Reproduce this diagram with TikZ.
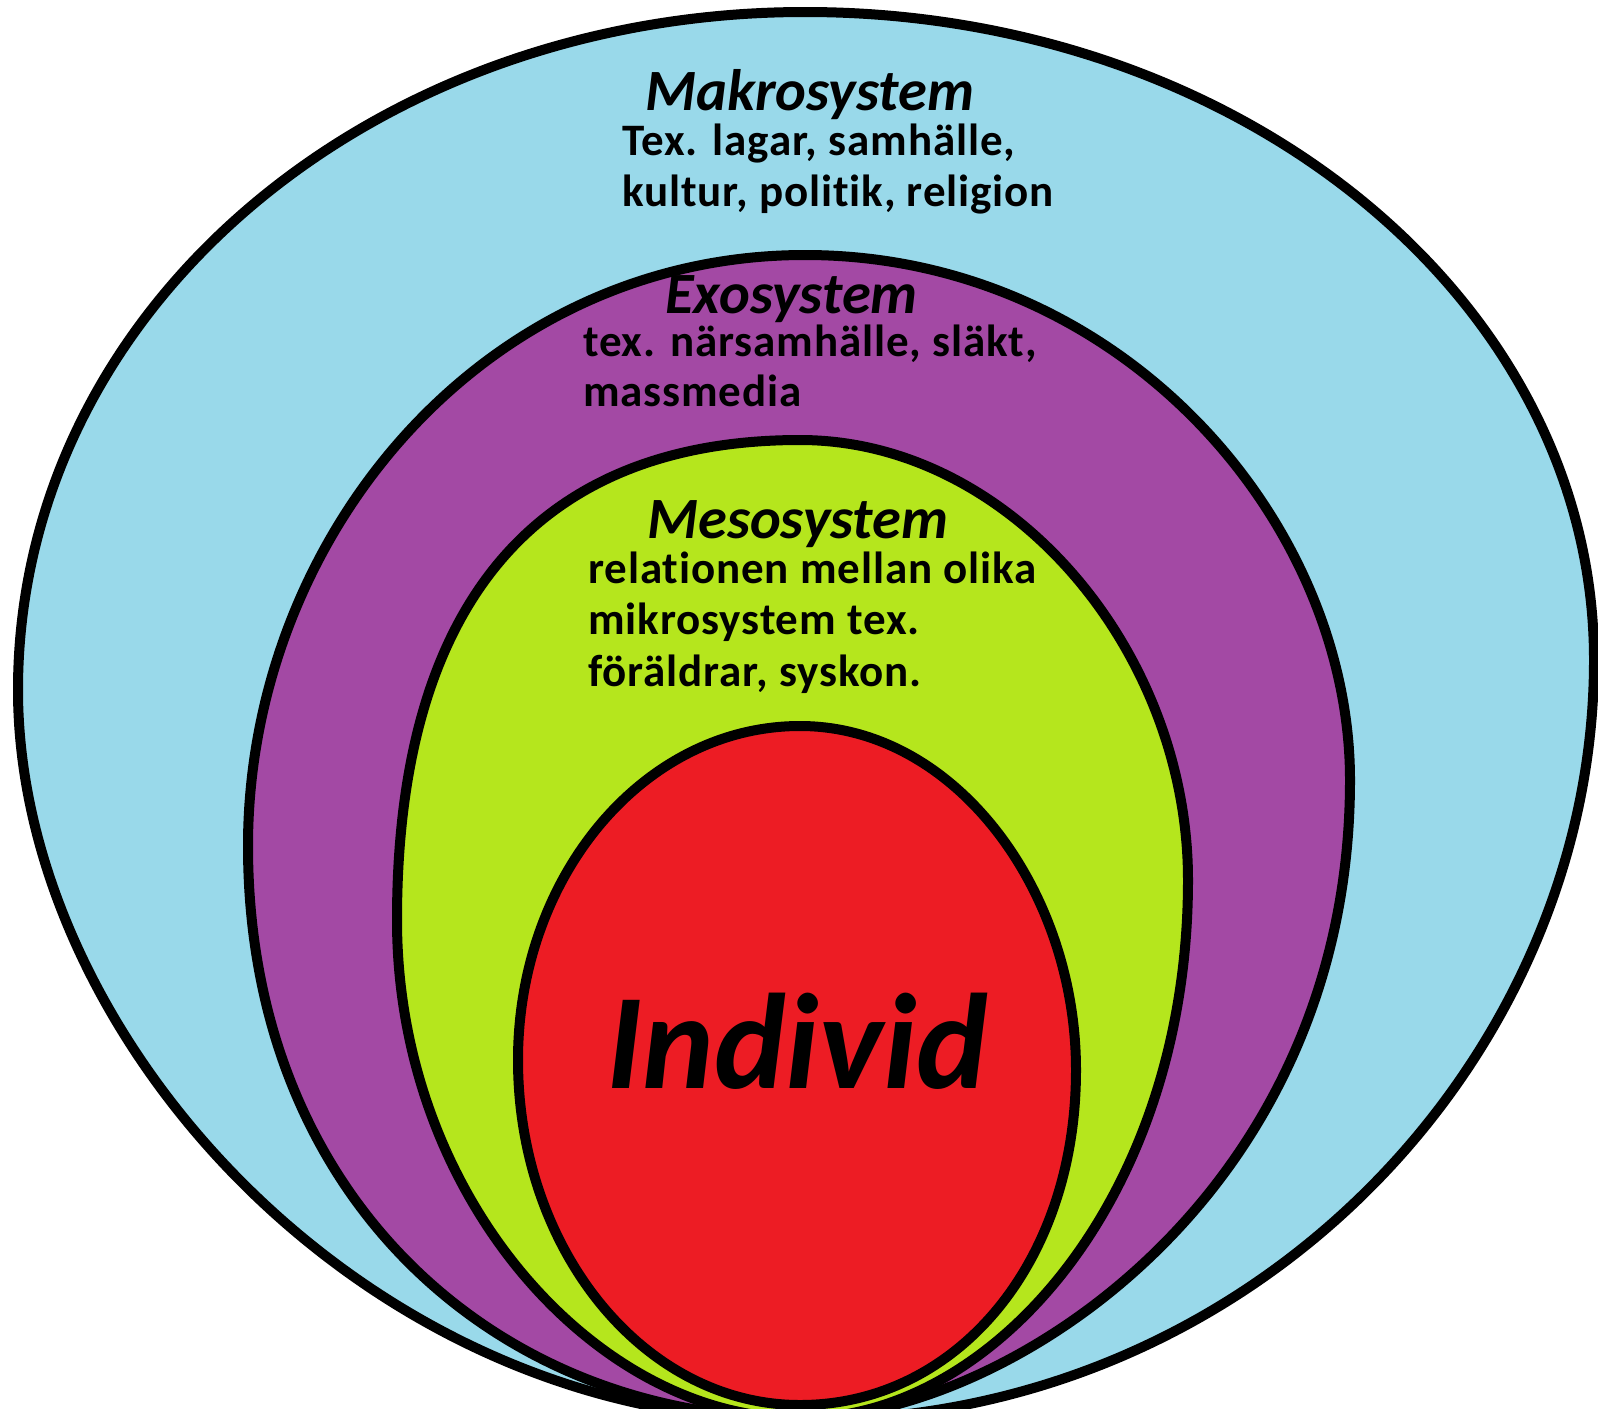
\documentclass[tikz,border=0pt]{standalone}
\usepackage{fontspec}
\setmainfont{Carlito}[Ligatures=NoCommon,LetterSpace=2]
\newfontfamily\headfont{Carlito}[Ligatures=NoCommon]
\definecolor{makroblue}{RGB}{153,217,234}
\definecolor{exopurple}{RGB}{163,73,164}
\definecolor{mesogreen}{RGB}{181,230,29}
\definecolor{indred}{RGB}{237,28,36}

\begin{document}
\begin{tikzpicture}[x=1pt,y=-1pt,
    ring/.style={draw=black,line width=10pt,line join=round},
    head/.style={font=\headfont\fontsize{58.5}{70}\selectfont\bfseries\itshape,inner sep=0,anchor=base west},
    body/.style={font=\fontsize{45}{54}\selectfont\bfseries,inner sep=0,anchor=base west}]
  \useasboundingbox (0,0) rectangle (1598,1408);
  \clip (0,0) rectangle (1598,1408);
  % makrosystem
  \draw[ring,fill=makroblue]
    (800,1420) .. controls (370,1425) and (18,1040) .. (18,690)
    .. controls (18,310) and (370,12) .. (805,12)
    .. controls (1240,12) and (1594,300) .. (1594,660)
    .. controls (1594,1060) and (1250,1425) .. (800,1420) -- cycle;
  % exosystem
  \draw[ring,fill=exopurple]
    (800,1418) .. controls (500,1420) and (248,1200) .. (248,846)
    .. controls (248,540) and (480,255) .. (805,255)
    .. controls (1120,255) and (1350,520) .. (1350,780)
    .. controls (1350,1200) and (1000,1420) .. (800,1418) -- cycle;
  % mesosystem
  \draw[ring,fill=mesogreen]
    (800,1418) .. controls (600,1420) and (397,1200) .. (397,920)
    .. controls (397,600) and (540,440) .. (800,440)
    .. controls (1010,440) and (1188,650) .. (1188,880)
    .. controls (1188,1200) and (990,1420) .. (800,1418) -- cycle;
  % individ
  \draw[ring,fill=indred]
    (800,1405) .. controls (644,1405) and (518,1250) .. (518,1060)
    .. controls (518,876) and (644,726) .. (800,726)
    .. controls (955,726) and (1076,890) .. (1076,1070)
    .. controls (1076,1265) and (955,1405) .. (800,1405) -- cycle;

  \node[head] (makro) at (645,110) {Makrosystem};
  \node[body] (makro1) at (622,155) {Tex. lagar, samhälle,};
  \node[body] (makro2) at (622,206) {kultur, politik, religion};

  \node[head] (exo) at (665,313) {Exosystem};
  \node[body] (exo1) at (583,356) {tex. närsamhälle, släkt,};
  \node[body] (exo2) at (583,406) {massmedia};

  \node[head] (meso) at (647,538) {Mesosystem};
  \node[body] (meso1) at (588,583) {relationen mellan olika};
  \node[body] (meso2) at (588,634) {mikrosystem tex.};
  \node[body] (meso3) at (588,686) {föräldrar, syskon.};

  \node[font=\headfont\fontsize{136}{160}\selectfont\bfseries\itshape,inner sep=0,anchor=base west]
    (individ) at (606,1088) {Individ};
\end{tikzpicture}
\end{document}
